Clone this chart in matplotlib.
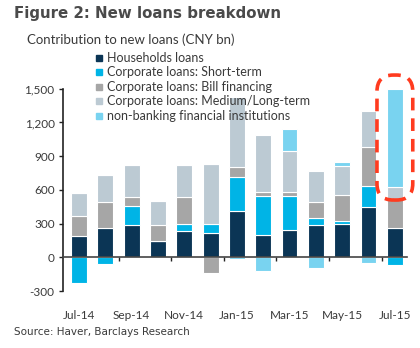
import matplotlib
matplotlib.use("Agg")
import matplotlib.pyplot as plt
from matplotlib.lines import Line2D
from matplotlib.patches import FancyBboxPatch
import numpy as np

months = ["Jul-14", "Aug-14", "Sep-14", "Oct-14", "Nov-14", "Dec-14", "Jan-15",
          "Feb-15", "Mar-15", "Apr-15", "May-15", "Jun-15", "Jul-15"]
households = [190, 261, 290, 148, 234, 213, 409, 198, 240, 285, 299, 448, 261]
short_term = [-230, -62, 167, 0, 59, 83, 308, 348, 308, 62, 24, 189, -69]
bill_fin = [178, 234, 83, 137, 241, -142, 89, 32, 30, 143, 234, 342, 255]
medium_long = [207, 240, 284, 219, 290, 534, 618, 513, 371, 278, 255, 323, 110]
non_bank = [0, 0, 0, 0, 0, 0, -12, -119, 193, -98, 33, -48, 869]

series = [
    ("Households loans", households, "#0b3555"),
    ("Corporate loans: Short-term", short_term, "#00b4e6"),
    ("Corporate loans: Bill financing", bill_fin, "#a6a6a6"),
    ("Corporate loans: Medium/Long-term", medium_long, "#bccad3"),
    ("non-banking financial institutions", non_bank, "#79d3f0"),
]

txt = "#3a3a3a"
font = "Lato"

fig = plt.figure(figsize=(4.2, 3.48), dpi=100)
ax = fig.add_axes([0.15, 0.141, 0.819, 0.717])

x = np.arange(len(months))
pos_base = np.zeros(len(months))
neg_base = np.zeros(len(months))
handles = []
for name, vals, col in series:
    v = np.array(vals, dtype=float)
    base = np.where(v >= 0, pos_base, neg_base)
    ax.bar(x, v, bottom=base, width=0.6, color=col, edgecolor="white", linewidth=0.8, zorder=2)
    pos_base += np.where(v > 0, v, 0)
    neg_base += np.where(v < 0, v, 0)
    handles.append(Line2D([], [], marker="s", linestyle="none", markersize=4,
                          markerfacecolor=col, markeredgecolor=col, label=name))

ax.set_xlim(-0.61, 12.46)
ax.set_ylim(-370, 1850)

# axes styling
for s in ["top", "right"]:
    ax.spines[s].set_visible(False)
ax.spines["left"].set_bounds(-300, 1500)
ax.spines["left"].set_color("#222222")
ax.spines["left"].set_linewidth(1.2)
ax.spines["bottom"].set_position(("data", 0))
ax.spines["bottom"].set_color("#444444")
ax.spines["bottom"].set_linewidth(1.2)
ax.spines["bottom"].set_zorder(3)

yt = [-300, 0, 300, 600, 900, 1200, 1500]
ax.set_yticks(yt)
ax.set_yticklabels([f"{v:,}" for v in yt], fontsize=8.5, color=txt, fontfamily=font)
ax.tick_params(axis="y", direction="out", length=3, width=1, color="#222222", pad=3)

# ticks between every second month on the zero line
ax.set_xticks(x[::2])
ax.set_xticklabels([])
ax.set_xticks(x[:-1:2] + 1.5, minor=True)
ax.tick_params(axis="x", which="major", length=0)
ax.tick_params(axis="x", which="minor", direction="out", length=3, width=1, color="#222222")

sec = ax.secondary_xaxis("bottom")
sec.set_xticks(x[::2])
sec.set_xticklabels(months[::2], fontsize=8.5, color=txt, fontfamily=font)
sec.tick_params(length=0, pad=8)
sec.spines["bottom"].set_visible(False)

leg = ax.legend(handles=handles, loc="upper left", bbox_to_anchor=(0.08, 1.01),
                frameon=False, handlelength=0.6, handletextpad=0.3,
                labelspacing=0.2, borderaxespad=0, prop={"family": font, "size": 9})
for t in leg.get_texts():
    t.set_color(txt)

# red dashed highlight around the last bar
last = len(months) - 1
px_y = (1850 + 370) / (0.717 * 348)
px_x = (12.46 + 0.61) / (0.819 * 420)
hl = FancyBboxPatch((last - 0.68, 510), 1.36, 1112,
                    boxstyle="round,pad=0,rounding_size=0.62",
                    mutation_aspect=px_y / px_x, fill=False,
                    edgecolor="#ff3b1f", linewidth=2.6, linestyle=(0, (3.5, 2.2)),
                    clip_on=False, zorder=4)
ax.add_patch(hl)

fig.text(0.033, 0.962, "Figure 2: New loans breakdown", fontsize=10.8, fontweight="bold",
         color="#4a4a4a", fontfamily="DejaVu Sans", va="center", ha="left")
fig.text(0.064, 0.885, "Contribution to new loans (CNY bn)", fontsize=9.5, color=txt,
         fontfamily=font, va="center", ha="left")
fig.text(0.033, 0.046, "Source: Haver, Barclays Research", fontsize=7.5, color="#3a3a3a",
         fontfamily="DejaVu Sans", va="center", ha="left")

fig.savefig("out.png", dpi=100)
